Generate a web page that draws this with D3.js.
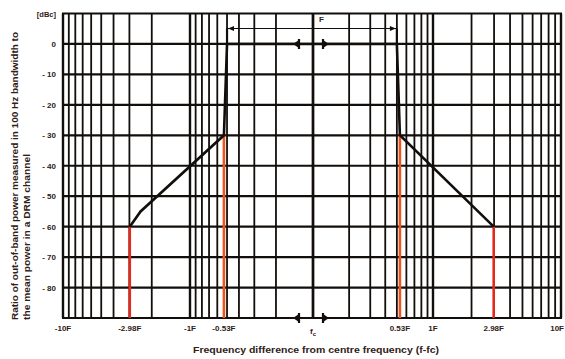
<!DOCTYPE html>
<html>
<head>
<meta charset="utf-8">
<script src="https://cdn.jsdelivr.net/npm/d3@7"></script>
<style>
  body { margin: 0; background: #fff; }
  svg { display: block; }
  text { font-family: "Liberation Sans", Arial, sans-serif; font-weight: bold; fill: #2e2016; }
</style>
</head>
<body>
<svg id="mask-chart" width="565" height="359"></svg>
<script>
// values
const yTicks = [0, -10, -20, -30, -40, -50, -60, -70, -80];
const xTickVals = [-10, -2.98, -1, -0.53, 0.53, 1, 2.98, 10];
const xTickLabels = ["-10F", "-2.98F", "-1F", "-0.53F", "0.53F", "1F", "2.98F", "10F"];
const innerGrid = [0.1, 0.2, 0.3, 0.4, 0.5, 0.6, 0.7, 0.8, 0.9];
const outerGrid = [1, 2, 3, 4, 5, 6, 7, 8, 9, 10];
const maskF = [-2.98, -2.45, -0.53, -0.5, 0.5, 0.53, 2.98];
const maskDb = [-60, -55, -30, 0, 0, -30, -60];
const limitF = [-2.98, -0.53, 0.53, 2.98];
const limitDb = [-60, -30, -30, -60];

const svg = d3.select("#mask-chart");
const ink = "#120e0b";

// two log scales, one per side of the centre frequency
const right = d3.scaleLog().domain([0.1, 1, 10]).range([313, 433, 561]);
const left = d3.scaleLog().domain([0.1, 1, 10]).range([313, 190, 63]);
const x = v => v < 0 ? left(-v) : right(v);
const y = d3.scaleLinear().domain([10, -90]).range([13.5, 318]);

const g = svg.append("g");

// horizontal grid
g.selectAll(".hgrid")
  .data(d3.range(10, -91, -10))
  .enter().append("line")
  .attr("x1", 62).attr("x2", 562)
  .attr("y1", d => y(d)).attr("y2", d => y(d))
  .attr("stroke", ink).attr("stroke-width", 2.2);

// vertical grid
const vLines = [];
innerGrid.concat(outerGrid).forEach(v => { vLines.push(v); vLines.push(-v); });
g.selectAll(".vgrid")
  .data(vLines)
  .enter().append("line")
  .attr("x1", d => x(d)).attr("x2", d => x(d))
  .attr("y1", y(10)).attr("y2", y(-90))
  .attr("stroke", ink)
  .attr("stroke-width", d => [1, 10, 0.1].includes(Math.abs(d)) ? 2.4 : 1.8);

// red limit lines
g.selectAll(".limit")
  .data(limitF)
  .enter().append("line")
  .attr("x1", d => x(d)).attr("x2", d => x(d))
  .attr("y1", (d, i) => y(limitDb[i])).attr("y2", y(-90))
  .attr("stroke", (d, i) => Math.abs(d) < 1 ? "#f0541e" : "#e32a1c")
  .attr("stroke-width", 2.6);

// mask polyline
const line = d3.line().x(d => x(d[0])).y(d => y(d[1]));
g.append("path")
  .attr("d", line(maskF.map((f, i) => [f, maskDb[i]])))
  .attr("fill", "none").attr("stroke", ink).attr("stroke-width", 2.6);

// bandwidth dimension F
const dimY = 28.5;
[-0.5, 0.5].forEach(f => {
  g.append("line")
    .attr("x1", x(f)).attr("x2", x(f)).attr("y1", dimY).attr("y2", y(0))
    .attr("stroke", ink).attr("stroke-width", 2.2);
});
g.append("line")
  .attr("x1", x(-0.5)).attr("x2", x(0.5)).attr("y1", dimY).attr("y2", dimY)
  .attr("stroke", ink).attr("stroke-width", 1.2);
g.append("path")
  .attr("d", `M${x(-0.5) + 1},${dimY} l6,-2.5 v5 Z M${x(0.5) - 1},${dimY} l-6,-2.5 v5 Z`)
  .attr("fill", ink);
g.append("text").attr("x", 319).attr("y", 22).attr("font-size", 8).text("F");

// break markers near the centre line
[y(0), y(-90)].forEach(yy => {
  g.append("path")
    .attr("d", `M293,${yy} l6,-4 v8 Z M329,${yy} l-6,-4 v8 Z`)
    .attr("fill", ink);
  g.append("path")
    .attr("d", `M299,${yy - 5} v10 M323,${yy - 5} v10`)
    .attr("stroke", ink).attr("stroke-width", 2.2);
});

// y tick labels
g.selectAll(".ylab")
  .data(yTicks)
  .enter().append("text")
  .attr("x", 56).attr("y", d => y(d) + 3)
  .attr("text-anchor", "end").attr("font-size", 8)
  .text(d => d === 0 ? "0" : "- " + Math.abs(d));
g.append("text").attr("x", 56).attr("y", 17).attr("text-anchor", "end")
  .attr("font-size", 7.5).text("[dBc]");

// x tick labels
g.selectAll(".xlab")
  .data(xTickVals)
  .enter().append("text")
  .attr("x", d => d === 10 ? 564 : x(d)).attr("y", 331)
  .attr("text-anchor", d => d === 10 ? "end" : "middle").attr("font-size", 8)
  .text((d, i) => xTickLabels[i]);
const fc = g.append("text").attr("x", 313).attr("y", 334)
  .attr("text-anchor", "middle").attr("font-size", 8);
fc.append("tspan").text("f");
fc.append("tspan").attr("font-size", 6).attr("dy", 2).text("c");

// axis titles
g.append("text").attr("x", 193).attr("y", 353)
  .attr("font-size", 8.6).attr("textLength", 246).attr("lengthAdjust", "spacingAndGlyphs")
  .text("Frequency difference from centre frequency (f-fc)");
g.append("text").attr("transform", "translate(18,320) rotate(-90)")
  .attr("font-size", 8.6).attr("textLength", 288).attr("lengthAdjust", "spacingAndGlyphs")
  .text("Ratio of out-of-band power measured in 100 Hz bandwidth to");
g.append("text").attr("transform", "translate(30,320) rotate(-90)")
  .attr("font-size", 8.6).attr("textLength", 166).attr("lengthAdjust", "spacingAndGlyphs")
  .text("the mean power in a DRM channel");
</script>
</body>
</html>
